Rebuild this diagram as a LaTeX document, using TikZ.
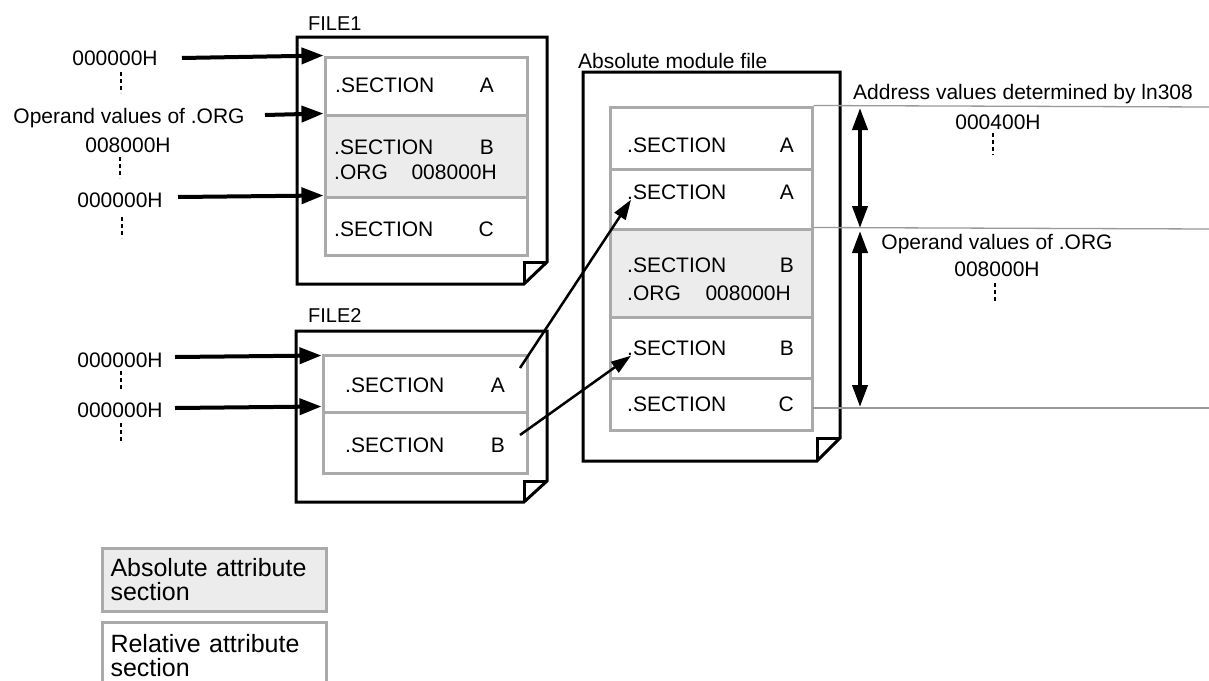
\documentclass[tikz,border=0pt]{standalone}
\usepackage{fontspec}
\setmainfont{Liberation Sans}
\usetikzlibrary{arrows.meta}
\definecolor{secgray}{HTML}{AAAAAA}
\definecolor{absfill}{HTML}{ECECEC}
\definecolor{thingray}{HTML}{999999}
\begin{document}
\begin{tikzpicture}[x=1pt,y=-1pt,
  txt/.style={font=\fontsize{21}{24}\selectfont, inner sep=0pt, text height=15pt, text depth=0pt},
  ftxt/.style={txt, font=\fontsize{20}{24}\selectfont},
  relsec/.style={draw=secgray, line width=3pt, fill=white, inner sep=0pt},
  abssec/.style={relsec, fill=absfill},
  filebox/.style={draw=black, line width=3pt, line join=miter},
  bigarrow/.style={line width=4pt, -{Triangle[length=22pt,width=16pt]}},
  dblarrow/.style={line width=4pt, {Triangle[length=22pt,width=15pt]}-{Triangle[length=22pt,width=15pt]}},
  diagarrow/.style={line width=2.5pt, -{Triangle[length=20pt,width=13pt]}},
  dotln/.style={line width=1.5pt, dash pattern=on 4pt off 3pt},
  thinln/.style={draw=thingray, line width=1.3pt},
  legend/.style={anchor=north west, minimum width=224pt, text width=208pt, inner xsep=8pt, inner ysep=0pt, align=left, font=\fontsize{25}{24}\selectfont}
]
\useasboundingbox (0,0) rectangle (1209,680);
\fill[white] (0,0) rectangle (1209,680);

% ---------------- FILE1 ----------------
\draw[filebox] (297,37) -- (547,37) -- (547,262) -- (524,284) -- (297,284) -- cycle;
\draw[filebox] (524,284) -- (524,262) -- (547,262);
\node[ftxt, anchor=west] (file1) at (308,23) {FILE1};

\node[relsec, minimum width=202pt, minimum height=58pt] (f1a) at (426,86) {};
\node[abssec, minimum width=202pt, minimum height=82pt] (f1b) at (426,156) {};
\node[relsec, minimum width=202pt, minimum height=58pt] (f1c) at (426,226) {};

\node[txt, anchor=west] (f1at) at (335,85) {.SECTION};
\node[txt, anchor=east] (f1al) at (494,85) {A};
\node[txt, anchor=west] (f1bt) at (334,147) {.SECTION};
\node[txt, anchor=east] (f1bl) at (494,147) {B};
\node[txt, anchor=west] (f1bo) at (334,172) {.ORG};
\node[txt, anchor=east] (f1bv) at (497,172) {008000H};
\node[txt, anchor=west] (f1ct) at (334,229) {.SECTION};
\node[txt, anchor=east] (f1cl) at (494,229) {C};

% left labels FILE1
\node[txt] (l1) at (115,58) {000000H};
\coordinate (l1s) at (182,58);
\draw[bigarrow] (l1s) -- (f1a.north west);
\draw[dotln] (121,72) -- (121,93);
\node[txt] (l2) at (129,116) {Operand values of .ORG};
\coordinate (l2s) at (265,115);
\draw[bigarrow] (l2s) -- (f1b.north west);
\node[txt] (l3) at (128,145) {008000H};
\draw[dotln] (120,157) -- (120,178);
\node[txt] (l4) at (120,200) {000000H};
\coordinate (l4s) at (178,197);
\draw[bigarrow] (l4s) -- (f1c.north west);
\draw[dotln] (122,217) -- (122,238);

% ---------------- FILE2 ----------------
\draw[filebox] (296,331) -- (547,331) -- (547,481) -- (524,502) -- (296,502) -- cycle;
\draw[filebox] (524,502) -- (524,481) -- (547,481);
\node[ftxt, anchor=west] (file2) at (308,315) {FILE2};

\node[relsec, minimum width=204pt, minimum height=57pt] (f2a) at (425,383.5) {};
\node[relsec, minimum width=204pt, minimum height=61pt] (f2b) at (425,442.5) {};
\node[txt, anchor=west] (f2at) at (345,385) {.SECTION};
\node[txt, anchor=east] (f2al) at (505,385) {A};
\node[txt, anchor=west] (f2bt) at (345,445) {.SECTION};
\node[txt, anchor=east] (f2bl) at (505,445) {B};

\node[txt] (l5) at (120,360) {000000H};
\coordinate (l5s) at (175,357);
\draw[bigarrow] (l5s) -- ([yshift=-2pt]f2a.north west);
\draw[dotln] (121,371) -- (121,391);
\node[txt] (l6) at (120,410) {000000H};
\coordinate (l6s) at (175,408);
\draw[bigarrow] (l6s) -- ([yshift=4pt]f2b.north west);
\draw[dotln] (121,423) -- (121,443);

% ---------------- Absolute module file ----------------
\draw[filebox] (583,72) -- (840,72) -- (840,438) -- (817,461) -- (583,461) -- cycle;
\draw[filebox] (817,461) -- (817,438) -- (840,438);
\node[txt, anchor=west] (modlbl) at (578,61) {Absolute module file};

\node[relsec, minimum width=202pt, minimum height=62pt] (m1) at (711,138) {};
\node[relsec, minimum width=202pt, minimum height=60pt] (m2) at (711,199) {};
\node[abssec, minimum width=202pt, minimum height=88pt] (m3) at (711,273) {};
\node[relsec, minimum width=202pt, minimum height=61pt] (m4) at (711,347.5) {};
\node[relsec, minimum width=202pt, minimum height=52pt] (m5) at (711,404) {};

\node[txt, anchor=west] (m1t) at (627,145) {.SECTION};
\node[txt, anchor=east] (m1l) at (794,145) {A};
\node[txt, anchor=west] (m2t) at (627,192) {.SECTION};
\node[txt, anchor=east] (m2l) at (794,192) {A};
\node[txt, anchor=west] (m3t) at (627,265) {.SECTION};
\node[txt, anchor=east] (m3l) at (794,265) {B};
\node[txt, anchor=west] (m3o) at (627,293) {.ORG};
\node[txt, anchor=east] (m3v) at (791,293) {008000H};
\node[txt, anchor=west] (m4t) at (627,348) {.SECTION};
\node[txt, anchor=east] (m4l) at (794,348) {B};
\node[txt, anchor=west] (m5t) at (627,404) {.SECTION};
\node[txt, anchor=east] (m5l) at (794,404) {C};

% diagonal arrows FILE2 -> module
\coordinate (da) at (520,368);
\coordinate (db) at (520,435);
\draw[diagarrow] (da) -- ([xshift=4pt]m2t.south west);
\draw[diagarrow] (db) -- ([xshift=4pt]m4t.south west);

% ---------------- right side ----------------
\coordinate (r1) at (1209,107);
\coordinate (r2) at (1209,229);
\coordinate (r3s) at (812,408);
\coordinate (r3) at (1209,408);
\draw[thinln] (m1.north east) -- (r1);
\draw[thinln] (m3.north east) -- (r2);
\draw[thinln] (r3s) -- (r3);

\coordinate (v1) at (860,108);
\coordinate (v2) at (860,228);
\coordinate (v3) at (860,231);
\coordinate (v4) at (860,407);
\draw[dblarrow] (v1) -- (v2);
\draw[dblarrow] (v3) -- (v4);

\node[txt, anchor=west] (addr) at (853,92) {Address values determined by ln308};
\node[txt] (a400) at (998,122) {000400H};
\draw[dotln] (993,133) -- (993,155);
\node[txt] (opr) at (997,242) {Operand values of .ORG};
\node[txt] (a8000) at (997,269) {008000H};
\draw[dotln] (995,283) -- (995,303);

% ---------------- legend ----------------
\node[abssec, legend, minimum height=63pt] (lg1) at (101,547) {Absolute attribute\\section};
\node[relsec, legend, minimum height=66pt] (lg2) at (101,621) {Relative attribute\\section};
\end{tikzpicture}
\end{document}
